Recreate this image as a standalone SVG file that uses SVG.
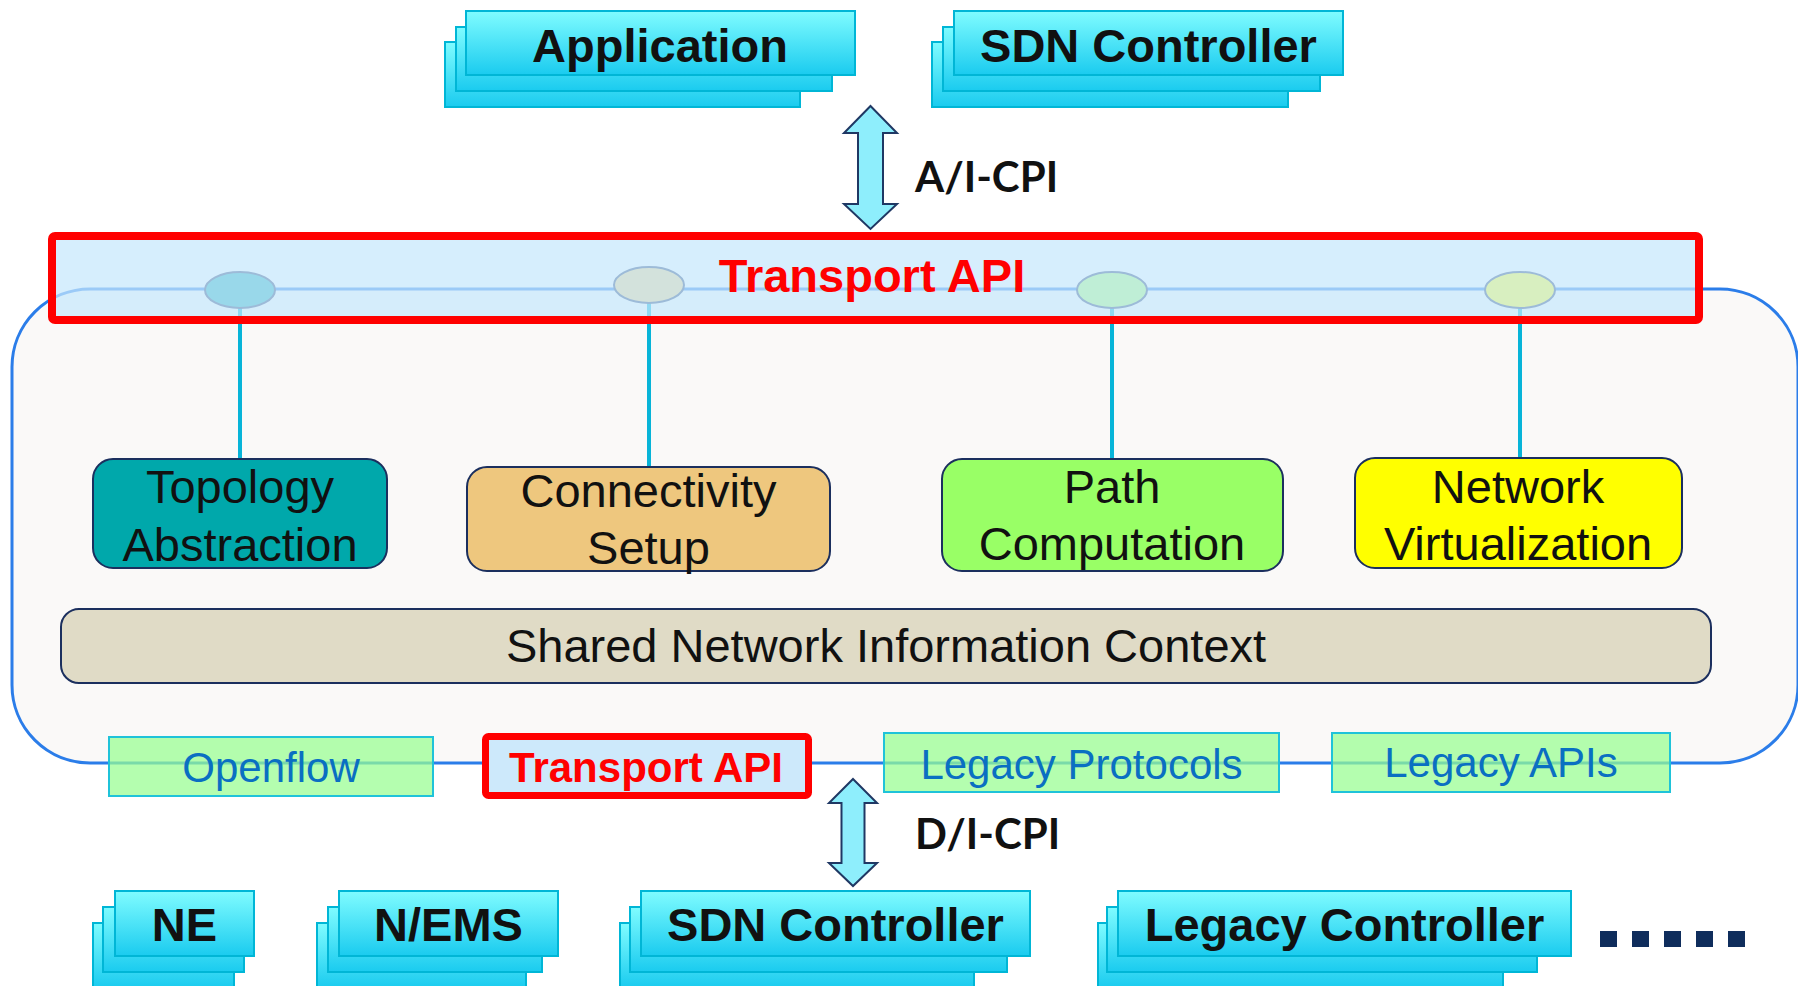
<svg xmlns="http://www.w3.org/2000/svg" width="1798" height="986" viewBox="0 0 1798 986">
<defs>
<linearGradient id="cardGrad" x1="0" y1="0" x2="0" y2="1">
<stop offset="0" stop-color="#80fcff"/>
<stop offset="1" stop-color="#1acbef"/>
</linearGradient>
<style>
.card{fill:url(#cardGrad);stroke:#00b6d6;stroke-width:2}
.cardText{font-family:"Liberation Sans",Arial,sans-serif;font-weight:bold;font-size:47px;fill:#111;text-anchor:middle}
.func{stroke:#1b2f5e;stroke-width:2}
.funcText{font-family:"Liberation Sans",Arial,sans-serif;font-size:47px;fill:#111;text-anchor:middle}
.iface{fill:#97fd90;fill-opacity:0.72;stroke:#1fc3d9;stroke-width:2}
.ifaceText{font-family:"Liberation Sans",Arial,sans-serif;font-size:42px;fill:#0a6fc2;text-anchor:middle}
.conn{stroke:#07b4d8;stroke-width:4;fill:none}
.port{stroke:#9dbbd8;stroke-width:2}
.arrow{fill:#8eeefc;stroke:#1f3864;stroke-width:2;stroke-linejoin:miter}
.cpi{font-family:Lato,"Open Sans",sans-serif;font-weight:bold;font-size:42px;fill:#111}
.red{fill:#ff0000;font-family:"Liberation Sans",Arial,sans-serif;font-weight:bold;text-anchor:middle}
</style>
</defs>
<rect width="1798" height="986" fill="#ffffff"/>

<g id="container">
<rect x="12" y="289" width="1786" height="474" rx="78" ry="78" fill="#faf9f8" stroke="#2b7de9" stroke-width="3"/>
</g>

<g id="connectors">
<line class="conn" x1="240" y1="300" x2="240" y2="460"/>
<line class="conn" x1="649" y1="295" x2="649" y2="467"/>
<line class="conn" x1="1112" y1="300" x2="1112" y2="459"/>
<line class="conn" x1="1520" y1="300" x2="1520" y2="459"/>
<polygon class="arrow" points="870.5,106 897,133 883,133 883,204 897,204 870.5,229 844,204 858,204 858,133 844,133"/>
<polygon class="arrow" points="853,779 877,803 864.5,803 864.5,863 877,863 853,886 829,863 841.5,863 841.5,803 829,803"/>
</g>

<g id="transport-api-top">
<rect x="52" y="236" width="1647" height="84" rx="3" fill="#c6e7fc" fill-opacity="0.72" stroke="#ff0000" stroke-width="8"/>
<ellipse class="port" cx="240" cy="290" rx="35" ry="18" fill="#99d8ea"/>
<ellipse class="port" cx="649" cy="285" rx="35" ry="18" fill="#d3e2dc"/>
<ellipse class="port" cx="1112" cy="290" rx="35" ry="18" fill="#bfeed6"/>
<ellipse class="port" cx="1520" cy="290" rx="35" ry="18" fill="#d8efc0"/>
<text class="red" x="872" y="292" font-size="47">Transport API</text>
</g>

<g id="application">
<rect class="card" x="445" y="42" width="355" height="65"/>
<rect class="card" x="456" y="27" width="376" height="64"/>
<rect class="card" x="466" y="11" width="389" height="64"/>
<text class="cardText" x="660" y="62">Application</text>
</g>

<g id="sdn-controller-top">
<rect class="card" x="932" y="42" width="356" height="65"/>
<rect class="card" x="943" y="27" width="377" height="64"/>
<rect class="card" x="954" y="11" width="389" height="64"/>
<text class="cardText" x="1148.5" y="62">SDN Controller</text>
</g>

<g id="label-aicpi">
<text class="cpi" x="915" y="192">A/I-CPI</text>
</g>

<g id="topology-abstraction">
<rect class="func" x="93" y="459" width="294" height="109" rx="20" fill="#00a8ab"/>
<text class="funcText" x="240" y="503">Topology</text>
<text class="funcText" x="240" y="561">Abstraction</text>
</g>

<g id="connectivity-setup">
<rect class="func" x="467" y="467" width="363" height="104" rx="20" fill="#eec77e"/>
<text class="funcText" x="648.5" y="507">Connectivity</text>
<text class="funcText" x="648.5" y="564">Setup</text>
</g>

<g id="path-computation">
<rect class="func" x="942" y="459" width="341" height="112" rx="20" fill="#99ff66"/>
<text class="funcText" x="1112" y="503">Path</text>
<text class="funcText" x="1112" y="560">Computation</text>
</g>

<g id="network-virtualization">
<rect class="func" x="1355" y="458" width="327" height="110" rx="20" fill="#ffff00"/>
<text class="funcText" x="1518" y="503">Network</text>
<text class="funcText" x="1518" y="560">Virtualization</text>
</g>

<g id="shared-context">
<rect class="func" x="61" y="609" width="1650" height="74" rx="18" fill="#e0dbc6"/>
<text class="funcText" x="886" y="662">Shared Network Information Context</text>
</g>

<g id="openflow">
<rect class="iface" x="109" y="737" width="324" height="59"/>
<text class="ifaceText" x="271" y="782">Openflow</text>
</g>

<g id="transport-api-bottom">
<rect x="485.5" y="736.5" width="323" height="59" rx="3" fill="#cde9fb" stroke="#ff0000" stroke-width="7"/>
<text class="red" x="646" y="782" font-size="42">Transport API</text>
</g>

<g id="legacy-protocols">
<rect class="iface" x="884" y="733" width="395" height="59"/>
<text class="ifaceText" x="1081.5" y="779">Legacy Protocols</text>
</g>

<g id="legacy-apis">
<rect class="iface" x="1332" y="733" width="338" height="59"/>
<text class="ifaceText" x="1501" y="777">Legacy APIs</text>
</g>

<g id="label-dicpi">
<text class="cpi" x="915" y="849">D/I-CPI</text>
</g>

<g id="ne">
<rect class="card" x="93" y="923" width="141" height="65"/>
<rect class="card" x="103" y="907" width="141" height="65"/>
<rect class="card" x="115" y="891" width="139" height="65"/>
<text class="cardText" x="184.5" y="941">NE</text>
</g>

<g id="nems">
<rect class="card" x="317" y="923" width="209" height="65"/>
<rect class="card" x="328" y="907" width="214" height="65"/>
<rect class="card" x="339" y="891" width="219" height="65"/>
<text class="cardText" x="448.5" y="941">N/EMS</text>
</g>

<g id="sdn-controller-bottom">
<rect class="card" x="620" y="923" width="354" height="65"/>
<rect class="card" x="630" y="907" width="377" height="65"/>
<rect class="card" x="641" y="891" width="389" height="65"/>
<text class="cardText" x="835.5" y="941">SDN Controller</text>
</g>

<g id="legacy-controller">
<rect class="card" x="1098" y="923" width="405" height="65"/>
<rect class="card" x="1107" y="907" width="430" height="65"/>
<rect class="card" x="1118" y="891" width="453" height="65"/>
<text class="cardText" x="1344.5" y="941">Legacy Controller</text>
</g>

<g id="more" fill="#0f2d5c">
<rect x="1600" y="931" width="17" height="16"/>
<rect x="1632" y="931" width="17" height="16"/>
<rect x="1664" y="931" width="17" height="16"/>
<rect x="1696" y="931" width="17" height="16"/>
<rect x="1728" y="931" width="17" height="16"/>
</g>
</svg>
